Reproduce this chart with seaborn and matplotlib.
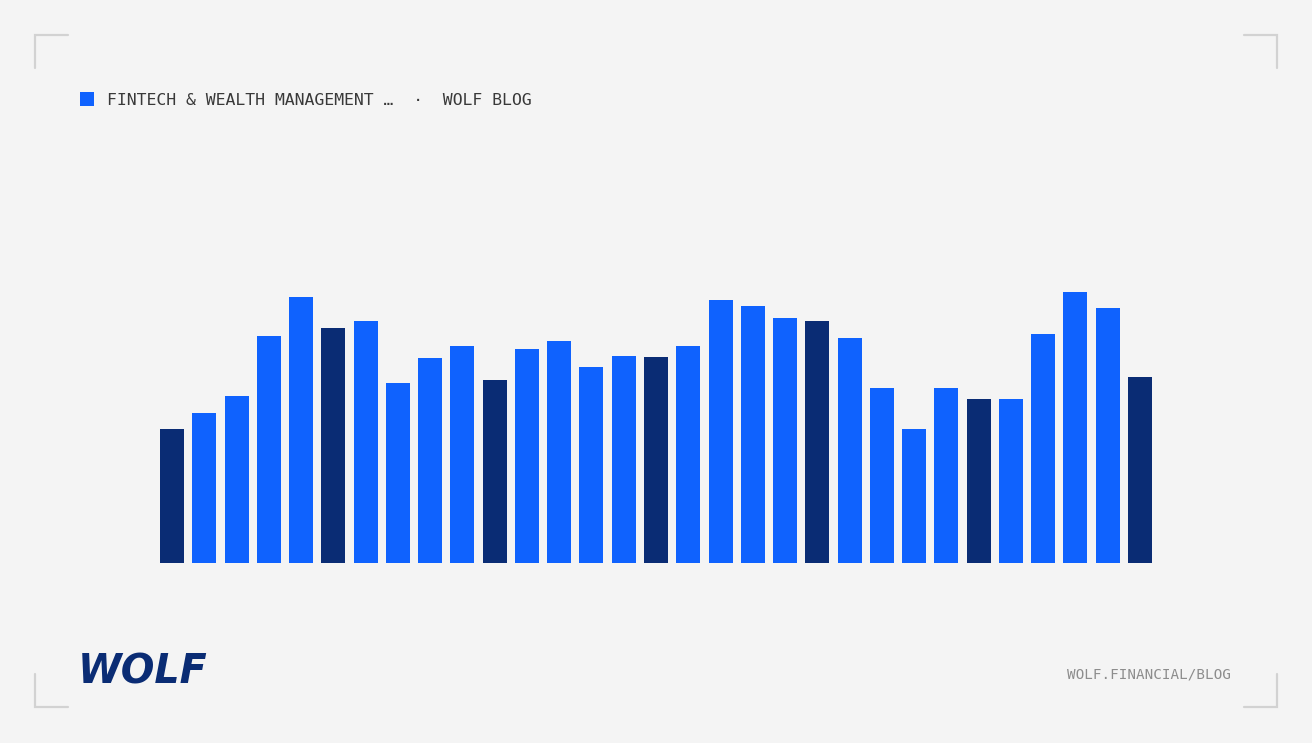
import matplotlib
matplotlib.use("Agg")
import matplotlib.pyplot as plt
import seaborn as sns
import pandas as pd
from matplotlib.lines import Line2D
from matplotlib.patches import Rectangle

# values (baseline = 0)
periods = [f"P{i+1:02d}" for i in range(31)]
values = [133.7, 150.3, 166.7, 227.0, 266.3, 234.7, 242.0, 179.7, 205.0, 216.7,
          183.0, 214.0, 222.0, 195.7, 207.3, 206.3, 217.0, 262.7, 257.0, 245.0,
          242.0, 225.0, 175.3, 134.0, 175.0, 164.0, 164.0, 229.3, 270.7, 254.7,
          186.0]
group = ["key", "base", "base", "base", "base",
         "key", "base", "base", "base", "base",
         "key", "base", "base", "base", "base",
         "key", "base", "base", "base", "base",
         "key", "base", "base", "base", "base",
         "key", "base", "base", "base", "base",
         "key"]

title = "FINTECH & WEALTH MANAGEMENT …  ·  WOLF BLOG"
footer = "WOLF.FINANCIAL/BLOG"

BG = "#f4f4f4"
BLUE = "#0f62fe"
NAVY = "#0a2c74"

df = pd.DataFrame({"period": periods, "value": values, "group": group})

sns.set_theme(style="white")
plt.rcParams["font.family"] = ["DejaVu Sans Mono", "DejaVu Sans"]

W, H = 1312, 743
fig = plt.figure(figsize=(W / 100, H / 100), dpi=100, facecolor=BG)

# axes placed so bars run 160..1152 px, baseline at y=563
left, right = 155.9, 1156.1
ax = fig.add_axes([left / W, (H - 563) / H, (right - left) / W, 300 / H])
ax.set_facecolor(BG)

sns.barplot(data=df, x="period", y="value", hue="group",
            palette={"base": BLUE, "key": NAVY}, dodge=False,
            width=0.744, legend=False, ax=ax, saturation=1, linewidth=0)
ax.set_xlim(-0.5, 30.5)
ax.set_ylim(0, 300)
ax.set_axis_off()

# corner brackets
bc = "#d2d2d2"
def px(x, y):
    return x / W, 1 - y / H
for (x0, y0, dx, dy) in [(35, 35, 1, 1), (1277, 35, -1, 1),
                         (35, 707, 1, -1), (1277, 707, -1, -1)]:
    xs = [x0 + dx * 33, x0, x0]
    ys = [y0, y0, y0 + dy * 33]
    fig.add_artist(Line2D([x / W for x in xs], [1 - y / H for y in ys],
                          color=bc, lw=1.6, solid_joinstyle="miter"))

# header
fig.add_artist(Rectangle(px(80, 106), 14 / W, 14 / H, color=BLUE, lw=0))
fig.text(107 / W, 1 - 100.5 / H, title, fontsize=11.85, color="#393939",
         va="center", ha="left")

# footer
fig.text(1067 / W, 1 - 674.5 / H, footer, fontsize=10.3, color="#8d8d8d",
         va="center", ha="left")
fig.text(78 / W, 1 - 672.5 / H, "WOLF", fontsize=28.5, color=NAVY,
         fontweight="heavy", fontstyle="italic", family="DejaVu Sans",
         va="center", ha="left")

fig.savefig("out.png", dpi=100, facecolor=BG)
